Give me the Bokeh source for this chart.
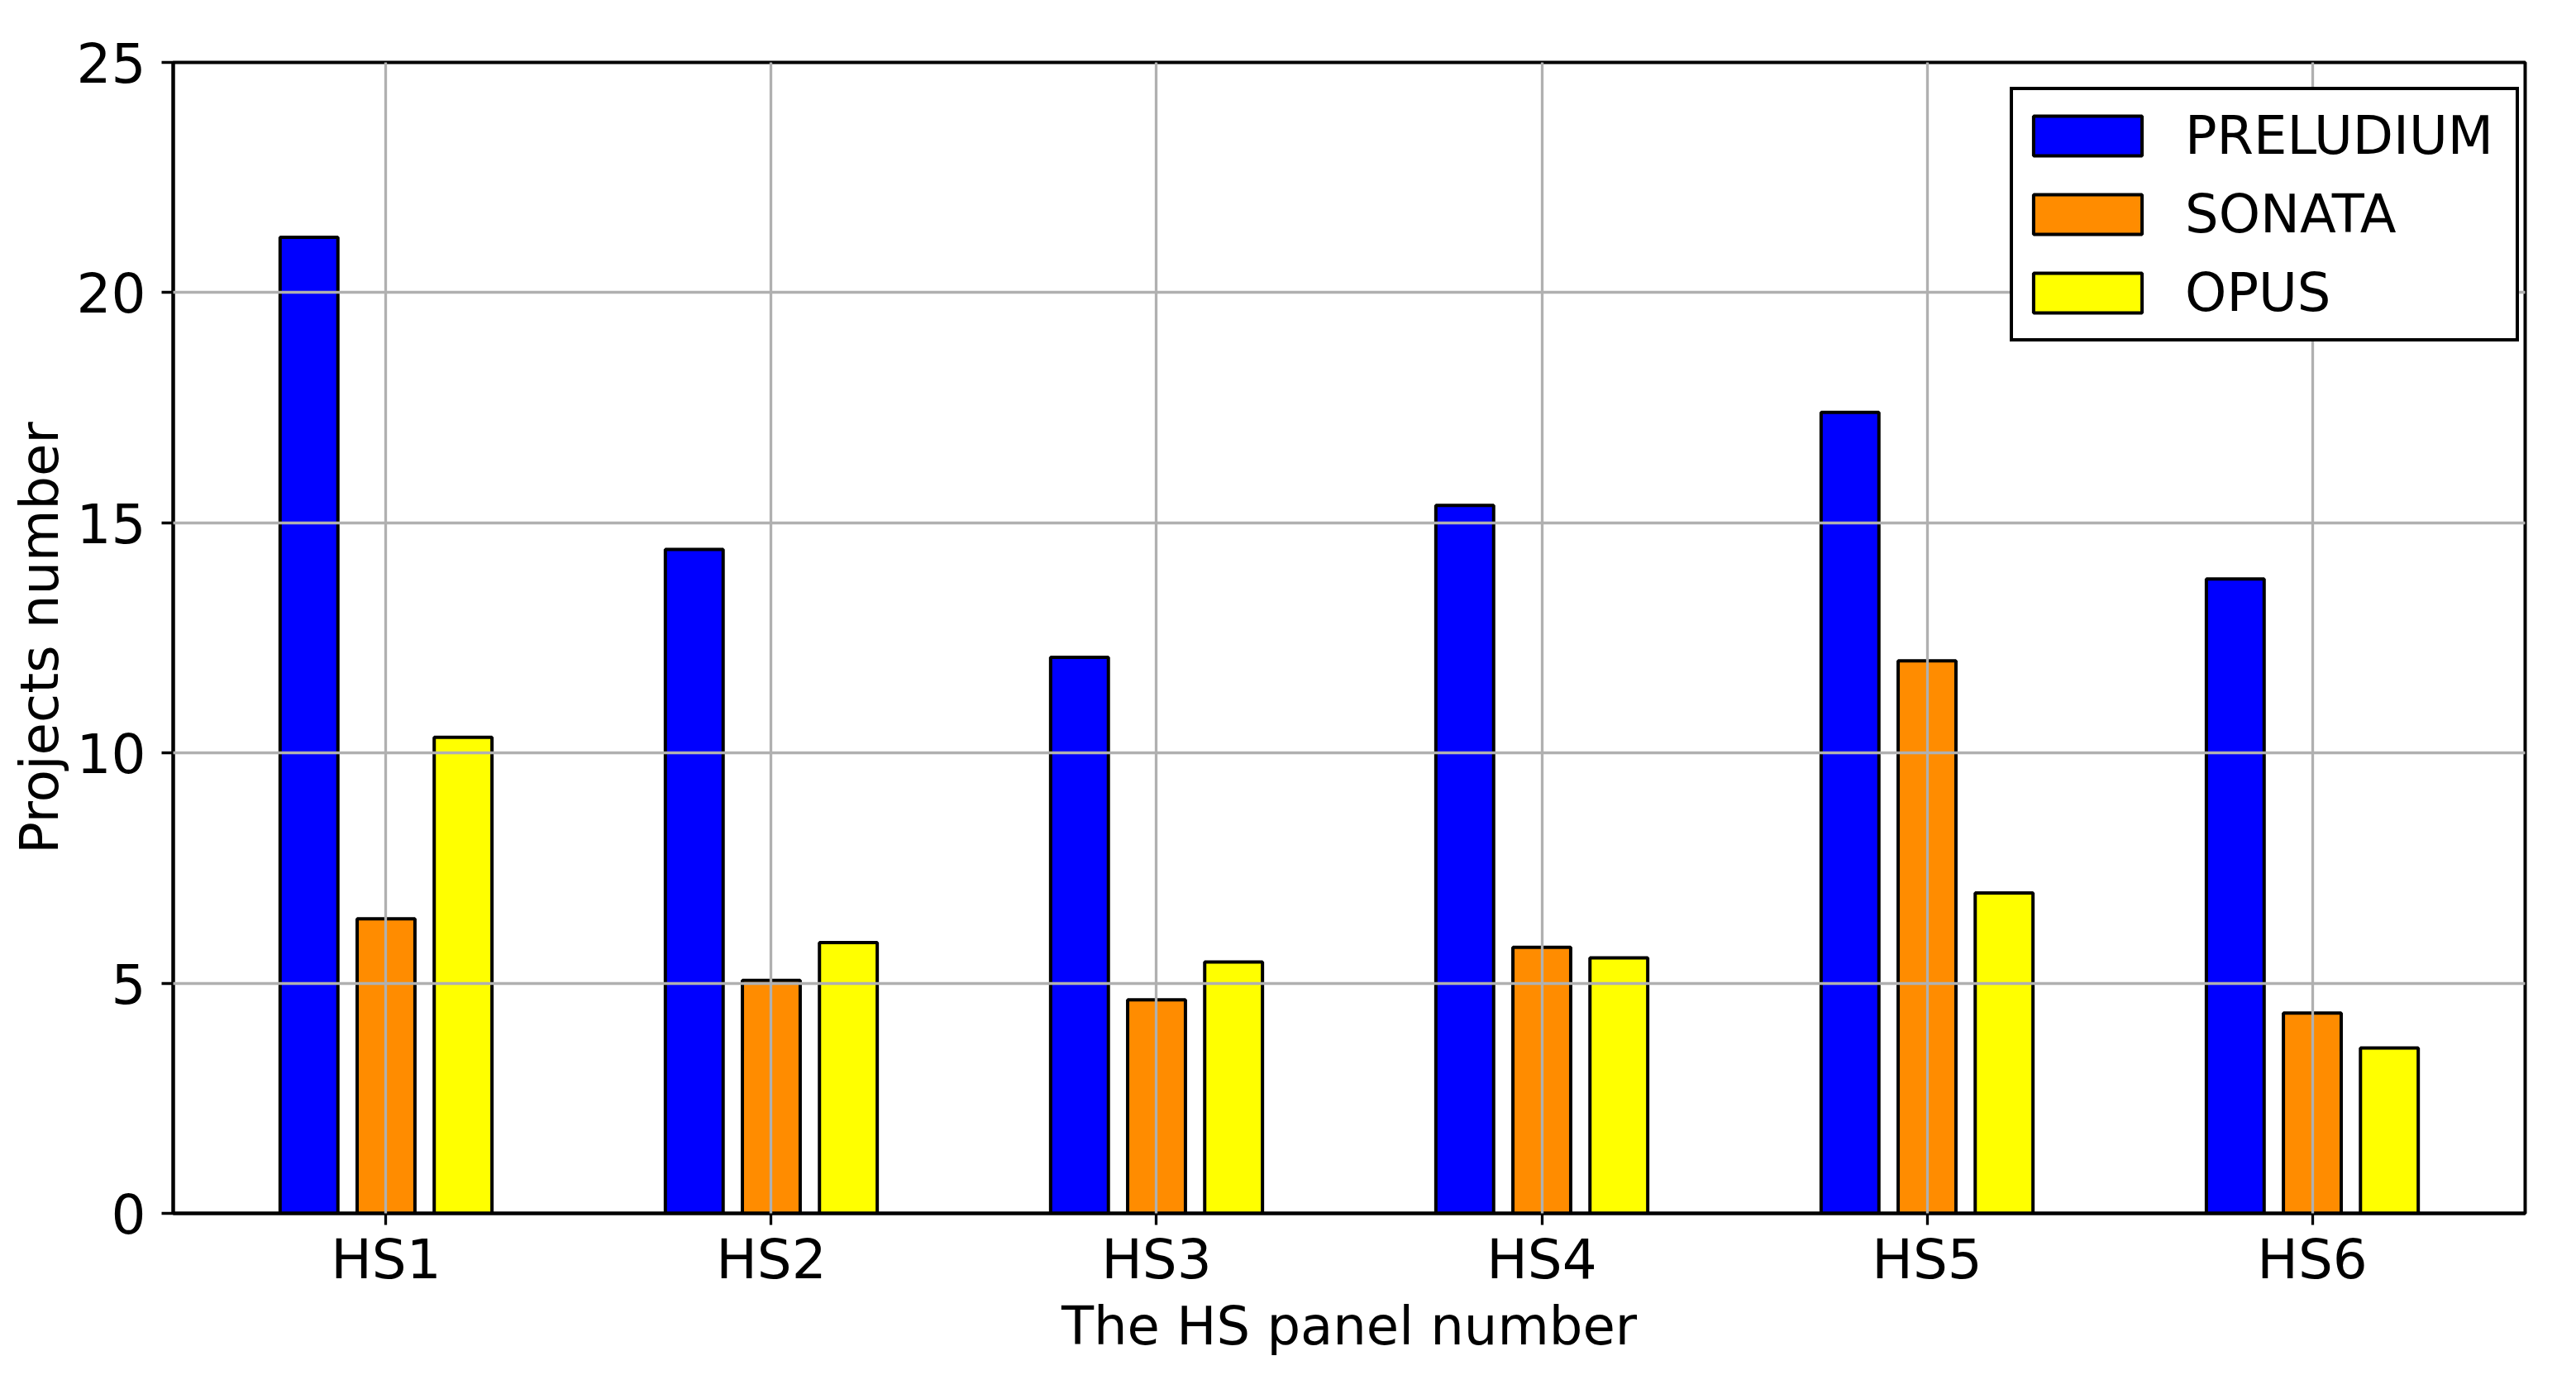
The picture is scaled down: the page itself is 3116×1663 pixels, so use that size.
from bokeh.plotting import figure
from bokeh.models import ColumnDataSource, FixedTicker, Range1d, Legend, LegendItem
from bokeh.transform import dodge
from bokeh.embed import file_html
from bokeh.resources import INLINE

categories = ["HS1", "HS2", "HS3", "HS4", "HS5", "HS6"]
prelude = [21.2, 14.42, 12.08, 15.38, 17.4, 13.78]
sonata = [6.4, 5.06, 4.64, 5.78, 12.0, 4.35]
opus = [10.34, 5.88, 5.46, 5.55, 6.96, 3.59]
series_names = ["PRELUDIUM", "SONATA", "OPUS"]
colors = ["#0000ff", "#ff8c00", "#ffff00"]
y_ticks = [0, 5, 10, 15, 20, 25]

FONT = "DejaVu Sans"
FS_TICK = "66px"
FS_LABEL = "64px"

xpos = list(range(len(categories)))
src = ColumnDataSource(dict(x=xpos, PRELUDIUM=prelude, SONATA=sonata, OPUS=opus))

p = figure(width=3116, height=1663, output_backend="svg", toolbar_location=None,
           x_range=Range1d(-0.5525, 5.5525), y_range=Range1d(0, 25),
           min_border_left=209, min_border_right=62, min_border_top=75, min_border_bottom=196)
p.background_fill_color = "white"
p.border_fill_color = "white"
p.outline_line_color = "black"
p.outline_line_width = 4

offsets = [-0.2, 0.0, 0.2]
items = []
for name, col, off in zip(series_names, colors, offsets):
    r = p.vbar(x=dodge("x", off), top=name, width=0.15, bottom=0, source=src,
               fill_color=col, line_color="black", line_width=4)
    items.append(LegendItem(label=name, renderers=[r]))

# axes
p.xaxis.ticker = FixedTicker(ticks=xpos)
p.xaxis.major_label_overrides = {i: c for i, c in enumerate(categories)}
p.yaxis.ticker = FixedTicker(ticks=y_ticks)
for ax in (p.xaxis[0], p.yaxis[0]):
    ax.axis_line_color = "black"
    ax.axis_line_width = 4
    ax.major_tick_line_color = "black"
    ax.major_tick_line_width = 3.3
    ax.major_tick_out = 14
    ax.major_tick_in = 0
    ax.minor_tick_out = 0
    ax.minor_tick_in = 0
    ax.major_label_text_font = FONT
    ax.major_label_text_font_size = FS_TICK
    ax.major_label_text_color = "black"
    ax.axis_label_text_font = FONT
    ax.axis_label_text_font_size = FS_LABEL
    ax.axis_label_text_font_style = "normal"
    ax.axis_label_text_color = "black"
p.xaxis.axis_label = "The HS panel number"
p.yaxis.axis_label = "Projects number"
p.xaxis.major_label_standoff = 3
p.yaxis.major_label_standoff = 19
p.xaxis.axis_label_standoff = 2
p.yaxis.axis_label_standoff = 5

# grid drawn over the bars
for g in (p.xgrid[0], p.ygrid[0]):
    g.grid_line_color = "#b0b0b0"
    g.grid_line_width = 3.3
    g.level = "guide"
p.xgrid.ticker = FixedTicker(ticks=xpos)
p.ygrid.ticker = FixedTicker(ticks=y_ticks)

legend = Legend(items=items, location=(2222, 1054))
legend.label_text_font = FONT
legend.label_text_font_size = FS_LABEL
legend.label_text_color = "black"
legend.glyph_width = 164
legend.glyph_height = 60
legend.label_standoff = 36
legend.label_width = 392
legend.label_height = 94
legend.padding = 8
legend.spacing = 1
legend.border_line_color = "black"
legend.border_line_width = 4
legend.border_line_alpha = 1
legend.background_fill_color = "white"
legend.background_fill_alpha = 1
legend.margin = 0
p.add_layout(legend)

open("out.html", "w").write(file_html(p, INLINE))
